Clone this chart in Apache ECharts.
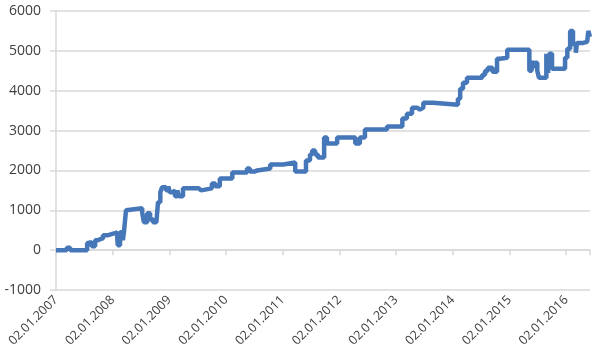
<!DOCTYPE html>
<html>
<head>
<meta charset="utf-8">
<script src="https://cdn.jsdelivr.net/npm/echarts@6/dist/echarts.min.js"></script>
<style>
  html, body { margin: 0; padding: 0; background: #fff; }
  #chart { width: 600px; height: 352px; }
</style>
</head>
<body>
<div id="chart"></div>
<script>
// Equity curve, x in fractional years
const years = [
    2007.00, 2007.19, 2007.25, 2007.55, 2007.58, 2007.63, 2007.69, 2007.74, 2007.83, 2007.92,
    2008.04, 2008.08, 2008.09, 2008.13, 2008.17, 2008.18, 2008.20, 2008.235, 2008.25, 2008.52,
    2008.55, 2008.61, 2008.66, 2008.71, 2008.77, 2008.80, 2008.84, 2008.87, 2008.94, 2008.98,
    2009.01, 2009.06, 2009.10, 2009.14, 2009.17, 2009.24, 2009.52, 2009.56, 2009.75, 2009.81,
    2009.89, 2010.11, 2010.37, 2010.42, 2010.51, 2010.55, 2010.78, 2011.01, 2011.22, 2011.41,
    2011.48, 2011.52, 2011.57, 2011.62, 2011.73, 2011.78, 2011.96, 2012.28, 2012.36, 2012.45,
    2012.84, 2013.11, 2013.19, 2013.28, 2013.37, 2013.42, 2013.48, 2013.55, 2013.65, 2014.09,
    2014.13, 2014.18, 2014.25, 2014.52, 2014.57, 2014.62, 2014.70, 2014.78, 2014.83, 2014.96,
    2015.35, 2015.39, 2015.42, 2015.45, 2015.49, 2015.52, 2015.65, 2015.68, 2015.70, 2015.75,
    2015.98, 2016.02, 2016.07, 2016.12, 2016.17, 2016.19, 2016.30, 2016.37, 2016.39, 2016.42
];
const equity = [
    0, 60, 0, 175, 200, 100, 250, 300, 375, 425,
    450, 300, 125, 450, 325, 250, 480, 1000, 1050, 950,
    700, 925, 775, 700, 675, 1200, 1450, 1575, 1500, 1600,
    1450, 1500, 1350, 1500, 1350, 1550, 1500, 1550, 1675, 1600,
    1800, 1950, 2050, 1975, 2000, 2050, 2150, 2200, 1975, 2250,
    2400, 2500, 2400, 2325, 2825, 2675, 2825, 2675, 2825, 3025,
    3100, 3300, 3425, 3575, 3525, 3575, 3700, 3700, 3650, 3800,
    4050, 4200, 4325, 4400, 4500, 4575, 4475, 4800, 4825, 5025,
    4500, 4750, 4575, 4700, 4500, 4325, 4925, 4450, 4925, 4550,
    4825, 5050, 5500, 5175, 4950, 5200, 5225, 5250, 5500, 5350
];

// Axis ranges
const xMin = 2007;
const xMax = 2016.42;
const yMin = -1000;
const yMax = 6000;

const chart = echarts.init(document.getElementById('chart'));

const textColor = '#404040';
const gridColor = '#d9d9d9';
const font = '"Open Sans", sans-serif';

chart.setOption({
    animation: false,
    backgroundColor: '#fff',
    grid: { left: 56, right: 10, top: 11, bottom: 62 },
    xAxis: [
        {
            // axis line + ticks crossing at zero
            type: 'value', min: xMin, max: xMax, interval: 1,
            axisLine: { onZero: true, lineStyle: { color: gridColor, width: 1.5 } },
            axisTick: { show: true, length: 5, lineStyle: { color: gridColor, width: 1.5 } },
            axisLabel: { show: false },
            splitLine: { show: false }
        },
        {
            // date labels at bottom
            type: 'value', position: 'bottom', min: xMin, max: xMax, interval: 1,
            axisLine: { show: false, onZero: false },
            axisTick: { show: false },
            splitLine: { show: false },
            axisLabel: {
                rotate: 45, margin: 8, color: textColor, fontSize: 12.5, fontFamily: font,
                showMaxLabel: false,
                formatter: v => '02.01.' + Math.round(v)
            }
        }
    ],
    yAxis: {
        type: 'value', min: yMin, max: yMax, interval: 1000,
        axisLine: { show: true, lineStyle: { color: gridColor, width: 1.5 } },
        axisTick: { show: true, length: 6, lineStyle: { color: gridColor, width: 1.5 } },
        axisLabel: { color: textColor, fontSize: 14, fontFamily: font, margin: 15, formatter: v => String(v) },
        splitLine: { lineStyle: { color: gridColor, width: 1.5 } }
    },
    series: [{
        type: 'line',
        xAxisIndex: 0,
        step: 'end',
        symbol: 'none',
        lineStyle: { color: '#4677b8', width: 4.5 },
        data: years.map((y, i) => [y, equity[i]])
    }]
});
</script>
</body>
</html>
